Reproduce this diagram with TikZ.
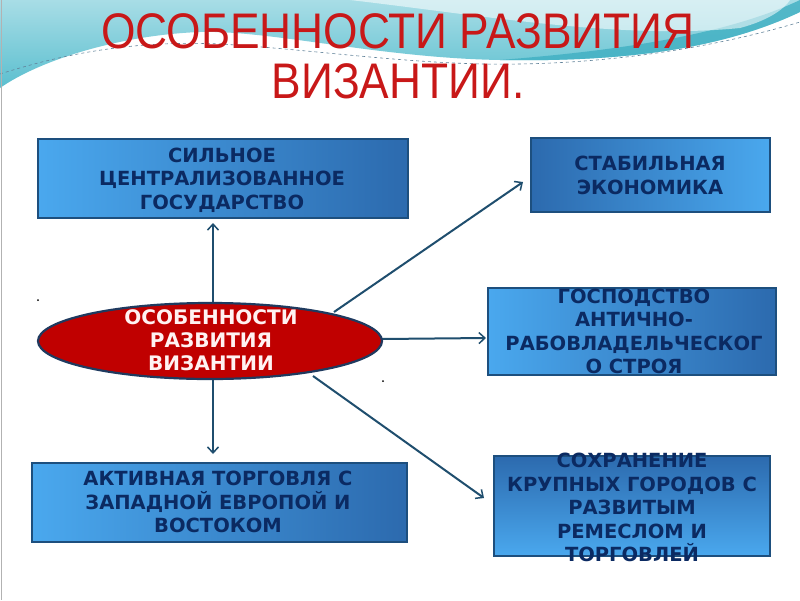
\documentclass[tikz,border=0pt]{standalone}
\usepackage{fontspec}
\setmainfont{DejaVu Sans}
\newfontfamily\titlefont{Liberation Sans}
\usetikzlibrary{shapes.geometric,arrows.meta}
\definecolor{boxborder}{HTML}{1D4F7E}
\definecolor{boxtext}{HTML}{0B2A62}
\definecolor{lightblue}{HTML}{4AA8EE}
\definecolor{darkblue}{HTML}{2C6AAE}
\definecolor{linecol}{HTML}{1F4E6E}
\definecolor{titlered}{HTML}{C81818}
\definecolor{ovalred}{HTML}{C00000}
\definecolor{ovalborder}{HTML}{1F3A5F}
\definecolor{tealA}{HTML}{5BBFCF}
\definecolor{tealB}{HTML}{A8DDE6}
\definecolor{tealC}{HTML}{3FAFC2}
\tikzset{
  x=1pt, y=-1pt,
  boxshape/.style={draw=boxborder, line width=2pt, rectangle, inner sep=0pt},
  boxtxt/.style={text=boxtext, align=center, inner sep=0pt,
    font=\bfseries\fontsize{19.5}{23.5}\selectfont},
  titletxt/.style={text=titlered, anchor=base, inner sep=0pt},
  conn/.style={draw=linecol, line width=2pt,
    -{Straight Barb[length=6pt,width=11pt,line width=1.5pt]}},
}
\begin{document}
\begin{tikzpicture}
\useasboundingbox (0,0) rectangle (800,600);
\fill[white] (0,0) rectangle (800,600);
% background wave
\shade[top color=tealB, bottom color=tealA]
  (0,0) -- (800,0) -- (800,12) .. controls (720,50) and (620,62) .. (500,60)
  .. controls (380,58) and (270,30) .. (200,32)
  .. controls (120,35) and (40,60) .. (0,88) -- cycle;
\fill[tealC, opacity=0.8]
  (800,12) .. controls (720,50) and (620,62) .. (500,60)
  .. controls (600,52) and (720,38) .. (800,0) -- cycle;
\fill[white, opacity=0.55]
  (350,0) .. controls (480,15) and (620,40) .. (740,28)
  .. controls (770,20) and (785,8) .. (790,0) -- cycle;
\draw[linecol!70, dashed, line width=0.6pt]
  (0,74) .. controls (60,55) and (130,40) .. (220,44)
  .. controls (320,50) and (420,66) .. (520,64)
  .. controls (640,62) and (740,40) .. (800,22);
\draw[gray!60, line width=0.8pt] (1,0) -- (1,600);
% title
\node[titletxt] (title1) at (398,48) {\scalebox{0.886}[1]{\titlefont\fontsize{50}{50}\selectfont ОСОБЕННОСТИ РАЗВИТИЯ}};
\node[titletxt] (title2) at (398,98) {\scalebox{0.886}[1]{\titlefont\fontsize{50}{50}\selectfont ВИЗАНТИИ.}};
% boxes
\node[boxshape, left color=lightblue, right color=darkblue,
  minimum width=370pt, minimum height=79pt] (b1) at (223,178.5) {};
\node[boxshape, left color=darkblue, right color=lightblue,
  minimum width=239pt, minimum height=74pt] (b2) at (650.5,175) {};
\node[boxshape, left color=lightblue, right color=darkblue,
  minimum width=288pt, minimum height=87pt] (b3) at (632,331.5) {};
\node[boxshape, left color=lightblue, right color=darkblue,
  minimum width=375pt, minimum height=79pt] (b4) at (219.5,502.5) {};
\node[boxshape, top color=darkblue, bottom color=lightblue,
  minimum width=276pt, minimum height=100pt] (b5) at (632,506) {};
\node[boxtxt] (t1) at (222,180) {СИЛЬНОЕ\\ЦЕНТРАЛИЗОВАННОЕ\\ГОСУДАРСТВО};
\node[boxtxt] (t2) at (650,175.5) {СТАБИЛЬНАЯ\\ЭКОНОМИКА};
\node[boxtxt] (t3) at (634,331.5) {ГОСПОДСТВО\\АНТИЧНО-\\РАБОВЛАДЕЛЬЧЕСКОГ\\О СТРОЯ};
\node[boxtxt] (t4) at (218,502) {АКТИВНАЯ ТОРГОВЛЯ С\\ЗАПАДНОЙ ЕВРОПОЙ И\\ВОСТОКОМ};
\node[boxtxt] (t5) at (632,507.5) {СОХРАНЕНИЕ\\КРУПНЫХ ГОРОДОВ С\\РАЗВИТЫМ\\РЕМЕСЛОМ И\\ТОРГОВЛЕЙ};
% connector coordinates
\coordinate (eUp) at (213,303);
\coordinate (eDown) at (213,380);
\coordinate (eUR) at (334,312);
\coordinate (eR) at (382,339);
\coordinate (eDR) at (313,376);
\coordinate (tip1) at (213,223);
\coordinate (tip2) at (523,182);
\coordinate (tip3) at (486,338);
\coordinate (tip4) at (213,454);
\coordinate (tip5) at (484,498);
\draw[conn] (eUp) -- (tip1);
\draw[conn] (eUR) -- (tip2);
\draw[conn] (eR) -- (tip3);
\draw[conn] (eDown) -- (tip4);
\draw[conn] (eDR) -- (tip5);
% oval
\node[ellipse, draw=ovalborder, line width=2.2pt, fill=ovalred,
  minimum width=344pt, minimum height=76pt, inner sep=0pt] (oval) at (210,341) {};
\node[text=white!95!red, align=center, inner sep=0pt,
  font=\bfseries\fontsize{20}{23}\selectfont] (ovaltxt) at (211,340) {ОСОБЕННОСТИ\\РАЗВИТИЯ\\ВИЗАНТИИ};
% dots
\fill[black] (38,300) circle (1pt);
\fill[black] (383,381) circle (1pt);
\end{tikzpicture}
\end{document}
